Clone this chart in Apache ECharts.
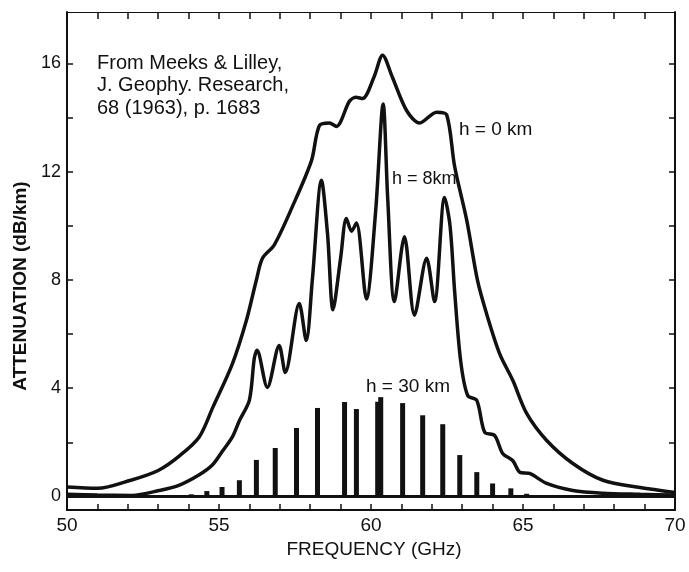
<!DOCTYPE html>
<html>
<head>
<meta charset="utf-8">
<script src="https://cdn.jsdelivr.net/npm/echarts@6/dist/echarts.min.js"></script>
<style>
html, body { margin: 0; background: #fff; }
#chart { width: 689px; height: 572px; }
</style>
</head>
<body>
<div id="chart"></div>
<script>
// h = 0 km (envelope)
var freq0 = [50.0, 51.0, 52.1, 53.0, 53.7, 54.35, 54.8, 55.44, 55.9, 56.23, 56.43, 56.82, 57.41, 58.04, 58.3, 58.63, 58.86, 59.29, 59.5, 59.72, 60.1, 60.38, 60.7, 61.17, 61.6, 62.16, 62.49, 62.75, 63.15, 63.5, 63.8, 64.23, 64.66, 65.12, 65.78, 66.64, 67.63, 68.85, 70.0];
var att0 = [0.35, 0.3, 0.6, 0.96, 1.5, 2.2, 3.3, 4.9, 6.5, 8.0, 8.8, 9.3, 10.7, 12.4, 13.7, 13.8, 13.67, 14.6, 14.75, 14.7, 15.5, 16.3, 15.5, 14.26, 13.8, 14.2, 14.1, 12.2, 10.2, 8.0, 6.76, 5.28, 4.3, 3.07, 2.07, 1.22, 0.6, 0.33, 0.15];

// h = 8 km
var freq8 = [50.0, 51.0, 52.14, 53.03, 53.7, 54.35, 54.78, 55.1, 55.44, 55.67, 56.0, 56.16, 56.25, 56.59, 56.98, 57.18, 57.64, 57.87, 58.07, 58.37, 58.57, 58.75, 59.0, 59.19, 59.36, 59.52, 59.85, 60.15, 60.4, 60.55, 60.77, 61.1, 61.43, 61.83, 62.09, 62.42, 62.6, 62.75, 62.95, 63.18, 63.48, 63.74, 64.07, 64.33, 64.66, 64.9, 65.22, 65.78, 66.64, 67.63, 68.85, 70.0];
var att8 = [0.08, 0.05, 0.04, 0.22, 0.42, 0.8, 1.16, 1.65, 2.2, 2.8, 3.56, 5.1, 5.4, 4.03, 5.58, 4.58, 7.13, 5.76, 8.0, 11.68, 9.7, 6.9, 8.8, 10.27, 9.8, 10.1, 7.3, 10.5, 14.5, 11.0, 7.2, 9.6, 6.7, 8.8, 7.2, 11.05, 10.0, 7.6, 5.0, 3.73, 3.55, 2.37, 2.25, 1.59, 1.33, 0.89, 0.85, 0.48, 0.22, 0.12, 0.08, 0.05];

// h = 30 km (line spectrum)
var lineFreq30 = [53.5, 54.09, 54.6, 55.1, 55.67, 56.23, 56.85, 57.55, 58.24, 59.13, 59.52, 60.22, 60.32, 61.04, 61.7, 62.36, 62.92, 63.48, 64.0, 64.6, 65.12];
var lineAtt30 = [0.05, 0.08, 0.2, 0.35, 0.6, 1.35, 1.79, 2.53, 3.27, 3.49, 3.23, 3.5, 3.67, 3.45, 3.0, 2.67, 1.53, 0.9, 0.48, 0.3, 0.1];
var baseFreq30 = [50, 70];
var baseAtt30 = [0, 0];

var xLabels = [50, 55, 60, 65, 70];
var yLabels = [0, 4, 8, 12, 16];
var yTicks = [0, 2, 4, 6, 8, 10, 12, 14, 16];

function pairs(xs, ys) {
    return xs.map(function (x, i) { return [x, ys[i]]; });
}

var ink = '#111';
var font = 'Liberation Sans, Arial, sans-serif';

var myChart = echarts.init(document.getElementById('chart'));
var option = {
    animation: false,
    backgroundColor: '#fff',
    grid: { left: 67, right: 14, top: 12, bottom: 62 },
    xAxis: [
        {
            type: 'value', position: 'bottom', min: 50, max: 70, interval: 1,
            axisLine: { onZero: false, lineStyle: { color: ink, width: 2 } },
            axisTick: { inside: true, length: 6, lineStyle: { color: ink, width: 1.5 } },
            axisLabel: { customValues: xLabels, color: ink, fontSize: 19, fontFamily: font, margin: 6 },
            splitLine: { show: false }
        },
        {
            type: 'value', position: 'top', min: 50, max: 70, interval: 1,
            axisLine: { onZero: false, lineStyle: { color: ink, width: 1 } },
            axisTick: { inside: true, length: 7, lineStyle: { color: ink, width: 1.5 } },
            axisLabel: { show: false },
            splitLine: { show: false }
        }
    ],
    yAxis: [
        {
            type: 'value', position: 'left', min: -0.5, max: 17.9,
            axisLine: { show: true, onZero: false, lineStyle: { color: ink, width: 2 } },
            axisTick: { show: true, inside: true, length: 6, customValues: yTicks, lineStyle: { color: ink, width: 1.5 } },
            axisLabel: { customValues: yLabels, color: ink, fontSize: 18, fontFamily: font, margin: 6 },
            splitLine: { show: false }
        },
        {
            type: 'value', position: 'right', min: -0.5, max: 17.9,
            axisLine: { show: true, onZero: false, lineStyle: { color: ink, width: 2 } },
            axisTick: { show: true, inside: true, length: 6, customValues: yTicks, lineStyle: { color: ink, width: 1.5 } },
            axisLabel: { show: false },
            splitLine: { show: false }
        }
    ],
    series: [
        {
            name: 'h = 0 km', type: 'line', data: pairs(freq0, att0),
            smooth: 0.3, symbol: 'none',
            lineStyle: { color: ink, width: 3.5 }
        },
        {
            name: 'h = 8 km', type: 'line', data: pairs(freq8, att8),
            smooth: 0.3, symbol: 'none',
            lineStyle: { color: ink, width: 3.5 }
        },
        {
            name: 'h = 30 km base', type: 'line', data: pairs(baseFreq30, baseAtt30),
            symbol: 'none',
            lineStyle: { color: ink, width: 3 }
        },
        {
            name: 'h = 30 km', type: 'bar', data: pairs(lineFreq30, lineAtt30),
            barWidth: 5,
            itemStyle: { color: ink }
        }
    ],
    graphic: [
        {
            type: 'text', left: 97, top: 52,
            style: {
                text: 'From Meeks & Lilley,\nJ. Geophy. Research,\n68 (1963), p. 1683',
                fill: ink, font: '20px ' + font, lineHeight: 22.5
            }
        },
        { type: 'text', x: 459, y: 130, style: { text: 'h = 0 km', fill: ink, font: '19px ' + font, verticalAlign: 'middle' } },
        { type: 'text', x: 392, y: 179, style: { text: 'h = 8km', fill: ink, font: '18px ' + font, verticalAlign: 'middle' } },
        { type: 'text', x: 366, y: 387, style: { text: 'h = 30 km', fill: ink, font: '19px ' + font, verticalAlign: 'middle' } },
        {
            type: 'text', x: 21, y: 286, rotation: Math.PI / 2,
            style: { text: 'ATTENUATION (dB/km)', fill: ink, font: 'bold 19px ' + font, align: 'center', verticalAlign: 'middle' }
        },
        {
            type: 'text', x: 374, y: 550,
            style: { text: 'FREQUENCY (GHz)', fill: ink, font: '19px ' + font, align: 'center', verticalAlign: 'middle' }
        }
    ]
};
myChart.setOption(option);
</script>
</body>
</html>
